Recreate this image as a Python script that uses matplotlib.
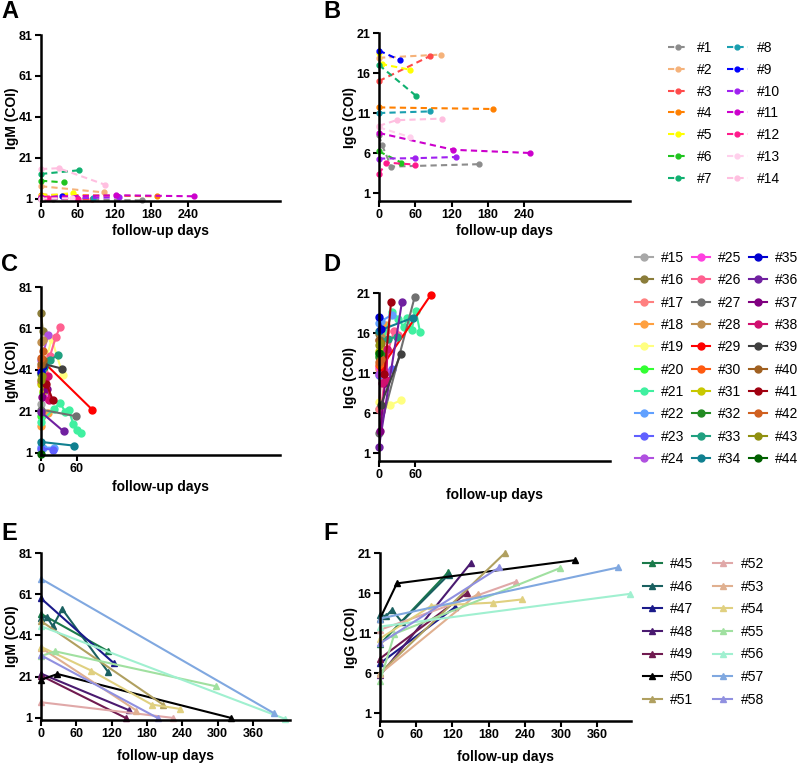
import matplotlib
matplotlib.use("Agg")
import matplotlib.pyplot as plt

plt.rcParams['font.family'] = ['Liberation Sans', 'DejaVu Sans']

# ---- group 1: #1 - #14 (panels A, B) ----
ids1 = ['#%d' % i for i in range(1, 15)]
colors1 = ['#8c8c8c', '#f5b27a', '#ff4a4a', '#ff8000', '#ffff00', '#1fc41f', '#10b070',
           '#1a9fb0', '#0000ff', '#a020f0', '#cc00cc', '#ff1a8c', '#ffd0ec', '#ffbfe0']
days1 = [[0, 5, 20, 165], [0, 102], [0, 84], [0, 189], [0, 5, 52], [0, 37], [0, 62],
         [0, 85], [0, 35], [0, 59, 128], [0, 123, 250], [0, 12, 60], [0, 51], [0, 29, 104]]
igm1 = [[1.0, 0.8, 0.9, 0.3], [7.2, 4.2], [1.5, 0.8], [3.1, 2.3], [2.6, 2.5, 3.9],
        [9.9, 9.1], [13.2, 15.0], [1.2, 1.5], [1.5, 2.3], [1.5, 1.4, 1.8],
        [2.0, 2.8, 2.3], [0.9, 1.4, 1.2], [1.2, 1.3], [15.6, 16.0, 8.0]]
igg1 = [[8.2, 7.0, 4.3, 4.6], [17.9, 18.3], [15.0, 18.1], [11.7, 11.5], [18.5, 17.1, 16.4],
        [6.2, 4.8], [17.0, 13.1], [11.0, 11.2], [18.8, 17.6], [5.3, 5.35, 5.5],
        [8.5, 6.4, 6.0], [3.4, 4.8, 4.55], [9.2, 8.0], [9.4, 10.1, 10.3]]

# ---- group 2: #15 - #44 (panels C, D) ----
ids2 = ['#%d' % i for i in range(15, 45)]
colors2 = ['#a8a8a8', '#8b7d3a', '#ff8080', '#ffa040', '#ffff80', '#33ff33', '#40f0a0',
           '#60a0ff', '#6060ff', '#b050e0', '#ff40e0', '#ff6090', '#707070', '#c09050',
           '#ff0000', '#ff5a10', '#c8c800', '#228b22', '#20a080', '#108090', '#0000d0',
           '#7020a0', '#800080', '#d01070', '#404040', '#a06020', '#a00010', '#d06020',
           '#909010', '#006000']
days2 = [[0, 4], [0, 3], [0, 5, 12], [0, 11], [0, 18, 37], [0, 3],
         [0, 22, 32, 41, 47, 54, 61, 68], [0, 4, 22], [0, 21], [0, 12], [0, 12],
         [3, 15, 25, 32], [0, 59], [0, 3], [4, 86], [0, 3], [0, 4], [0, 5], [1, 15, 29],
         [0, 56], [0, 4], [0, 38], [2, 10], [5, 12, 14], [3, 36], [0, 4], [9, 20],
         [0, 3], [0, 2], [0]]
igm2 = [[24.8, 36], [68.5, 60], [40, 40, 47], [13.9, 20.3], [37, 56, 38.4], [18.7, 30],
        [16, 22.4, 25, 20.8, 21.6, 15.1, 11.9, 10.6], [3.9, 3.6, 3.5], [3.1, 2.6],
        [45.6, 57.7], [35, 27.2], [41, 47.6, 57, 61.7], [21.9, 18.7], [54.5, 55.3],
        [44.9, 21.9], [42.4, 43.6], [34.4, 31], [39, 42.4], [36, 45.6, 48.4], [6.3, 4.5],
        [40, 43], [20.7, 11.4], [28, 32], [36, 38, 26.7], [44, 41.6], [44, 46],
        [34.4, 26.4], [47, 50], [36, 38], [0.7]]
igg2 = [[6.5, 10.5], [15.9, 15.5], [6.5, 13.8, 16.3], [11.5, 17.0], [7.4, 7.0, 7.6],
        [13.2, 13.5], [13.5, 18.6, 17.8, 16.7, 17.9, 16.4, 18.7, 16.1], [17.2, 17.5, 18.3],
        [10.7, 11.5], [10.9, 11.1], [11.75, 13.5], [6.3, 13.8, 16.3, 15.8], [3.5, 20.5],
        [15.1, 15.5], [11.7, 20.8], [12.0, 12.3], [13.8, 14.2], [13.0, 13.4],
        [15.1, 15.3, 15.5], [16.3, 17.9], [18.0, 16.5], [1.8, 19.9], [3.8, 9.8],
        [9.7, 10.1, 14.0], [7.0, 13.4], [15.1, 14.8], [10.9, 19.9], [12.4, 12.8],
        [14.5, 14.8], [13.5]]

# ---- group 3: #45 - #58 (panels E, F) ----
ids3 = ['#%d' % i for i in range(45, 59)]
colors3 = ['#1a7a4a', '#1a6060', '#1a1a8a', '#4a1a70', '#701a50', '#000000', '#b0a060',
           '#e0a8a8', '#e0b090', '#e0d080', '#a0e0a0', '#a0f0d0', '#80a8e0', '#9090e0']
days3 = [[0, 113], [0, 10, 20, 36, 114], [0, 124], [0, 150], [0, 144], [0, 28, 323],
         [0, 207], [0, 225], [0, 162], [0, 85, 188, 236], [0, 24, 298], [0, 415],
         [0, 395], [0, 198]]
igm3 = [[51.5, 33.5], [49.5, 50, 45.5, 53.8, 23.3], [59, 27.5], [22.5, 4.7], [21.5, 1.0],
        [19.5, 22.3, 1.0], [48, 7.5], [8.6, 1.0], [35, 4.6], [35.5, 24, 7.5, 5.4],
        [31, 33.3, 16.3], [45.5, 0.5], [68.5, 3.4], [31.4, 1.0]]
igg3 = [[9.6, 18.6], [13.3, 13.1, 13.9, 12.4, 18.3], [7.2, 14.2], [5.7, 19.7], [7.8, 16.0],
        [12.8, 17.2, 20.1], [6.0, 21.0], [11.4, 17.4], [5.9, 15.9], [10.3, 14.4, 14.8, 15.2],
        [5.0, 10.9, 19.1], [11.8, 15.9], [12.8, 19.2], [9.7, 19.2]]

W, H = 800, 763
fig = plt.figure(figsize=(8, 7.63), dpi=100)


def make_ax(left, top, right, bottom):
    return fig.add_axes([left / W, 1 - bottom / H, (right - left) / W, (bottom - top) / H])


def style(ax, xmax, xticks, ymax, yticks, ylabel, xpad):
    ax.set_xlim(0, xmax)
    ax.set_ylim(0, ymax)
    ax.set_xticks(xticks)
    ax.set_yticks(yticks)
    for s in ['top', 'right']:
        ax.spines[s].set_visible(False)
    for s in ['left', 'bottom']:
        ax.spines[s].set_linewidth(1.8)
    ax.tick_params(width=1.5, length=4, labelsize=9, pad=2)
    for lab in ax.get_xticklabels() + ax.get_yticklabels():
        lab.set_fontweight('bold')
    ax.set_ylabel(ylabel, fontsize=10, fontweight='bold', labelpad=0)
    ax.set_xlabel('follow-up days', fontsize=10, fontweight='bold', labelpad=xpad)


def draw(ax, days, vals, colors, ids, **kw):
    for d, v, c, n in zip(days, vals, colors, ids):
        ax.plot(d, v, color=c, label=n, clip_on=False, **kw)


dash = dict(linestyle=(0, (3, 2)), lw=1.5, marker='o', ms=3.5)
solid_o = dict(lw=1.5, marker='o', ms=5)
solid_t = dict(lw=1.5, marker='^', ms=5)

igm_ticks = [1, 21, 41, 61, 81]
igg_ticks = [1, 6, 11, 16, 21]
ticks_ab = [0, 60, 120, 180, 240]
ticks_ef = [0, 60, 120, 180, 240, 300, 360]

axA = make_ax(41, 35, 280, 201)
draw(axA, days1, igm1, colors1, ids1, **dash)
style(axA, 390, ticks_ab, 81, igm_ticks, 'IgM (COI)', 2)

axB = make_ax(379, 33, 630, 201)
draw(axB, days1, igg1, colors1, ids1, **dash)
style(axB, 415, ticks_ab, 21, igg_ticks, 'IgG (COI)', 2)

axC = make_ax(41, 287, 280, 455)
draw(axC, days2, igm2, colors2, ids2, **solid_o)
style(axC, 402, [0, 60], 81, igm_ticks, 'IgM (COI)', 3)

axD = make_ax(379, 293, 610, 461)
draw(axD, days2, igg2, colors2, ids2, **solid_o)
style(axD, 382, [0, 60], 21, igg_ticks, 'IgG (COI)', 5)

axE = make_ax(41, 553, 290, 720)
draw(axE, days3, igm3, colors3, ids3, **solid_t)
style(axE, 423, ticks_ef, 81, igm_ticks, 'IgM (COI)', 6)

axF = make_ax(380, 553, 631, 721)
draw(axF, days3, igg3, colors3, ids3, **solid_t)
style(axF, 416, ticks_ef, 21, igg_ticks, 'IgG (COI)', 6)

# legends
leg_kw = dict(loc='upper left', frameon=False, borderpad=0, borderaxespad=0, fontsize=10)
fig.legend(*axB.get_legend_handles_labels(), ncol=2, bbox_to_anchor=(668 / W, 1 - 41 / H),
           handlelength=1.45, handletextpad=0.65, labelspacing=0.56, columnspacing=1.05,
           **leg_kw)
fig.legend(*axD.get_legend_handles_labels(), ncol=3, bbox_to_anchor=(635 / W, 1 - 251 / H),
           handlelength=1.3, handletextpad=0.6, labelspacing=0.6, columnspacing=0.5,
           **leg_kw)
fig.legend(*axF.get_legend_handles_labels(), ncol=2, bbox_to_anchor=(643 / W, 1 - 557 / H),
           handlelength=1.35, handletextpad=0.6, labelspacing=0.62, columnspacing=1.45,
           **leg_kw)

# panel letters
for txt, x, y in [('A', 1, 0), ('B', 323, 0), ('C', 1, 253), ('D', 323, 253),
                  ('E', 1, 522), ('F', 323, 522)]:
    fig.text(x / W, 1 - y / H, txt, fontsize=17, fontweight='bold', va='top', ha='left')

fig.savefig('out.png', dpi=100)
